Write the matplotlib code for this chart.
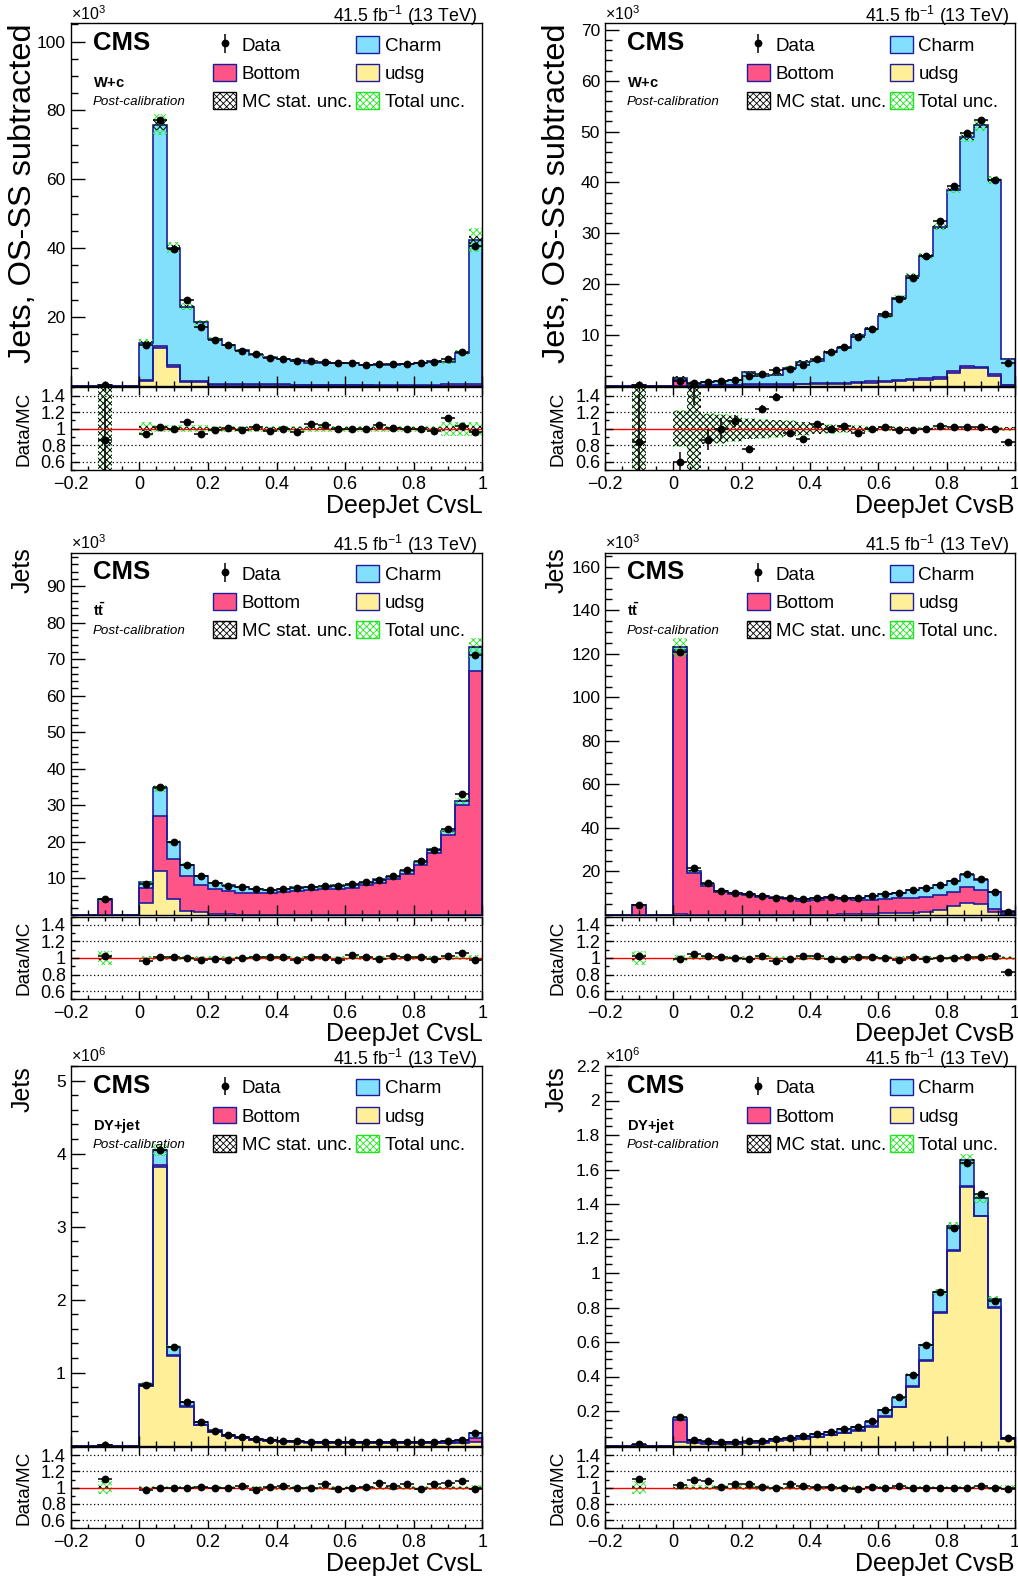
import numpy as np
import matplotlib
matplotlib.use("Agg")
import matplotlib.pyplot as plt
from matplotlib.patches import Patch
from matplotlib.ticker import MultipleLocator, FixedLocator, FuncFormatter

plt.rcParams["font.family"] = ["Liberation Sans", "DejaVu Sans"]
plt.rcParams["mathtext.fontset"] = "custom"
plt.rcParams["mathtext.rm"] = "Liberation Sans"
plt.rcParams["mathtext.it"] = "Liberation Sans:italic"
plt.rcParams["mathtext.bf"] = "Liberation Sans:bold"
plt.rcParams["hatch.linewidth"] = 0.6
plt.rcParams["axes.linewidth"] = 1.0

# ---------------- binning (30 bins of 0.04 from -0.2 to 1.0) ----------------
bin_edges = np.linspace(-0.2, 1.0, 31)
bin_centers = 0.5 * (bin_edges[:-1] + bin_edges[1:])

# ---------------- W+c, CvsL (x10^3) ----------------
wcL_udsg = [0, 0, 0.02, 0, 0, 1.5, 11.0, 5.5, 1.2, 1.0, 0.3, 0.3, 0.15, 0.1, 0.1, 0.1, 0.08, 0.08, 0.07, 0.06,
            0.06, 0.06, 0.05, 0.05, 0.05, 0.05, 0.05, 0.05, 0.05, 0.05]
wcL_bottom = [0, 0, 0.02, 0, 0, 0.3, 0.6, 0.4, 0.3, 0.3, 0.3, 0.25, 0.25, 0.3, 0.3, 0.25, 0.2, 0.2, 0.2, 0.2,
              0.2, 0.2, 0.2, 0.2, 0.2, 0.2, 0.2, 0.3, 0.5, 0.5]
wcL_charm = [0, 0, 0.10, 0, 0, 10.75, 64.2, 34.2, 21.5, 17.1, 13.1, 11.15, 9.9, 8.6, 7.9, 7.45, 7.27, 6.42, 6.28, 6.24,
             6.29, 5.89, 5.85, 5.9, 6.2, 6.45, 6.95, 6.65, 9.05, 41.75]
wcL_data = [0, 0, 0.12, 0, 0, 11.8, 77.3, 39.7, 24.8, 17.1, 13.4, 11.8, 10.1, 9.2, 8.1, 7.8, 7.25, 7.1, 6.8, 6.5,
            6.5, 6.1, 6.4, 6.2, 6.4, 6.7, 7.0, 7.9, 9.9, 40.6]
wcL_derr = [0, 0, 0.6, 0, 0, 0.01, 0.005, 0.006, 0.008, 0.01, 0.01, 0.01, 0.012, 0.012, 0.012, 0.012, 0.012, 0.012, 0.012, 0.012,
            0.012, 0.012, 0.012, 0.012, 0.012, 0.012, 0.012, 0.012, 0.01, 0.006]
wcL_stat = [0, 0, 1.0, 0, 0, 0.03, 0.02, 0.02, 0.02, 0.02, 0.02, 0.02, 0.02, 0.02, 0.02, 0.02, 0.02, 0.02, 0.02, 0.02,
            0.02, 0.02, 0.02, 0.02, 0.02, 0.02, 0.02, 0.03, 0.03, 0.03]
wcL_tot = [0, 0, 1.0, 0, 0, 0.085, 0.04, 0.04, 0.04, 0.04, 0.035, 0.035, 0.035, 0.035, 0.035, 0.035, 0.035, 0.035, 0.035, 0.035,
           0.035, 0.035, 0.035, 0.035, 0.035, 0.035, 0.035, 0.085, 0.085, 0.085]

# ---------------- W+c, CvsB (x10^3) ----------------
wcB_udsg = [0, 0, 0, 0, 0, 0.0, 0.0, 0.02, 0.05, 0.05, 0.1, 0.15, 0.2, 0.2, 0.25, 0.3, 0.35, 0.4, 0.5, 0.6,
            0.7, 0.9, 1.1, 1.2, 1.4, 2.5, 3.5, 3.4, 2.0, 0.05]
wcB_bottom = [0, 0, 0.02, 0, 0, 1.1, 0.1, 0.2, 0.1, 0.1, 0.15, 0.1, 0.1, 0.1, 0.15, 0.15, 0.15, 0.2, 0.25, 0.25,
              0.25, 0.25, 0.25, 0.25, 0.3, 0.3, 0.3, 0.3, 0.3, 0.05]
wcB_charm = [0, 0, 0.04, 0, 0, 0.4, 0.2, 0.53, 0.7, 0.95, 2.35, 1.65, 1.9, 3.15, 4.3, 4.5, 6.1, 6.9, 9.25, 10.35,
             12.85, 16.15, 20.25, 24.05, 29.6, 35.8, 45.1, 47.5, 38.2, 5.2]
wcB_data = [0, 0, 0.05, 0, 0, 0.9, 0.55, 0.65, 0.85, 1.2, 1.95, 2.35, 3.05, 3.25, 4.1, 5.25, 6.6, 7.7, 9.5, 11.2,
            14.1, 17.1, 21.2, 25.5, 32.4, 39.3, 49.8, 52.2, 40.5, 4.45]
wcB_derr = [0, 0, 0.7, 0, 0, 0.2, 0.3, 0.15, 0.13, 0.07, 0.05, 0.04, 0.035, 0.03, 0.025, 0.02, 0.02, 0.015, 0.015, 0.012,
            0.01, 0.01, 0.008, 0.008, 0.007, 0.006, 0.005, 0.005, 0.006, 0.02]
wcB_stat = [0, 0, 1.0, 0, 0, 0.21, 1.0, 0.18, 0.17, 0.15, 0.12, 0.11, 0.1, 0.09, 0.075, 0.06, 0.05, 0.04, 0.035, 0.025,
            0.02, 0.018, 0.015, 0.013, 0.012, 0.01, 0.01, 0.01, 0.01, 0.02]
wcB_tot = [0, 0, 1.0, 0, 0, 0.22, 1.0, 0.19, 0.18, 0.16, 0.13, 0.12, 0.11, 0.10, 0.085, 0.07, 0.06, 0.05, 0.045, 0.035,
           0.03, 0.028, 0.025, 0.022, 0.02, 0.02, 0.02, 0.02, 0.02, 0.025]

# ---------------- ttbar, CvsL (x10^3) ----------------
ttL_udsg = [0, 0, 0, 0, 0, 3.3, 12.1, 4.4, 1.2, 0.8, 0.4, 0.2, 0.1, 0.1, 0.08, 0.08, 0.06, 0.05, 0.04, 0.03,
            0.03, 0.03, 0.03, 0.03, 0.03, 0.03, 0.03, 0.03, 0.03, 0.05]
ttL_bottom = [0, 0, 4.2, 0, 0, 4.1, 14.9, 10.9, 9.4, 7.5, 6.8, 6.3, 5.9, 5.9, 5.9, 6.2, 6.6, 6.75, 6.95, 7.2,
              7.4, 8.05, 8.7, 9.75, 11.25, 13.6, 16.8, 21.9, 30.0, 66.8]
ttL_charm = [0, 0, 0.1, 0, 0, 1.55, 7.65, 4.6, 3.15, 2.5, 1.6, 1.65, 1.6, 1.15, 0.87, 0.77, 0.99, 0.8, 0.71, 0.92,
             0.67, 0.72, 1.02, 0.72, 0.72, 0.92, 1.17, 1.07, 1.17, 6.45]
ttL_data = [0, 0, 4.4, 0, 0, 8.6, 35.0, 20.1, 13.75, 10.6, 8.7, 8.0, 7.6, 7.2, 6.9, 7.1, 7.5, 7.65, 7.8, 8.0,
            8.4, 8.9, 9.65, 10.7, 12.2, 14.7, 17.85, 23.5, 33.1, 71.1]
ttL_derr = [0, 0, 0.02, 0, 0, 0.01, 0.005, 0.006, 0.008, 0.01, 0.01, 0.01, 0.01, 0.01, 0.01, 0.01, 0.01, 0.01, 0.01, 0.01,
            0.01, 0.01, 0.01, 0.01, 0.01, 0.008, 0.008, 0.006, 0.005, 0.004]
ttL_stat = [0, 0, 0.02, 0, 0, 0.006, 0.004, 0.005, 0.006, 0.006, 0.006, 0.006, 0.006, 0.006, 0.006, 0.006, 0.006, 0.006, 0.006, 0.006,
            0.006, 0.006, 0.006, 0.006, 0.006, 0.006, 0.006, 0.005, 0.005, 0.004]
ttL_tot = [0, 0, 0.08, 0, 0, 0.03, 0.025, 0.025, 0.025, 0.025, 0.025, 0.025, 0.025, 0.025, 0.025, 0.025, 0.025, 0.025, 0.025, 0.025,
           0.025, 0.025, 0.025, 0.025, 0.025, 0.025, 0.025, 0.025, 0.025, 0.035]

# ---------------- ttbar, CvsB (x10^3) ----------------
ttB_udsg = [0, 0, 0, 0, 0, 0.3, 0.2, 0.15, 0.1, 0.1, 0.1, 0.1, 0.1, 0.1, 0.15, 0.2, 0.2, 0.25, 0.3, 0.5,
            1.0, 1.0, 1.1, 1.2, 2.5, 4.0, 5.3, 5.0, 1.5, 0.2]
ttB_bottom = [0, 0, 4.5, 0, 0, 121.5, 19.0, 13.3, 10.5, 9.6, 9.1, 8.2, 7.5, 7.3, 6.5, 6.9, 7.4, 7.1, 6.7, 6.5,
              6.5, 6.7, 6.9, 7.3, 6.5, 6.4, 7.4, 6.5, 1.4, 0.3]
ttB_charm = [0, 0, 0.1, 0, 0, 1.2, 1.2, 0.65, 0.4, 0.4, 0.4, 0.4, 0.45, 0.5, 0.5, 0.55, 0.6, 0.65, 0.7, 1.6,
             2.3, 2.6, 3.3, 3.8, 4.9, 5.2, 5.9, 4.8, 7.6, 1.3]
ttB_data = [0, 0, 4.7, 0, 0, 121.0, 21.4, 14.5, 11.1, 10.1, 9.5, 8.9, 7.8, 7.8, 7.3, 7.8, 8.1, 7.9, 7.8, 8.7,
            9.8, 10.1, 11.5, 12.2, 13.9, 15.6, 18.8, 16.5, 10.7, 1.5]
ttB_derr = [0, 0, 0.02, 0, 0, 0.003, 0.008, 0.01, 0.01, 0.01, 0.01, 0.01, 0.012, 0.012, 0.012, 0.012, 0.012, 0.012, 0.012, 0.012,
            0.01, 0.01, 0.01, 0.01, 0.01, 0.008, 0.008, 0.008, 0.01, 0.03]
ttB_stat = [0, 0, 0.02, 0, 0, 0.004, 0.006, 0.006, 0.006, 0.006, 0.006, 0.006, 0.006, 0.006, 0.006, 0.006, 0.006, 0.006, 0.006, 0.006,
            0.006, 0.006, 0.006, 0.006, 0.006, 0.006, 0.006, 0.006, 0.006, 0.01]
ttB_tot = [0, 0, 0.08, 0, 0, 0.035, 0.025, 0.025, 0.025, 0.025, 0.025, 0.025, 0.025, 0.025, 0.025, 0.025, 0.025, 0.025, 0.025, 0.025,
           0.025, 0.025, 0.025, 0.025, 0.025, 0.025, 0.025, 0.025, 0.025, 0.03]

# ---------------- DY+jet, CvsL (x10^6) ----------------
dyL_udsg = [0, 0, 0.005, 0, 0, 0.81, 3.82, 1.23, 0.53, 0.28, 0.18, 0.13, 0.1, 0.078, 0.061, 0.052, 0.044, 0.039, 0.035, 0.034,
            0.032, 0.03, 0.029, 0.029, 0.029, 0.03, 0.03, 0.032, 0.038, 0.045]
dyL_bottom = [0, 0, 0.0002, 0, 0, 0.007, 0.03, 0.01, 0.006, 0.004, 0.004, 0.003, 0.003, 0.003, 0.003, 0.003, 0.003, 0.003, 0.003, 0.004,
              0.004, 0.004, 0.0045, 0.005, 0.005, 0.006, 0.007, 0.009, 0.014, 0.06]
dyL_charm = [0, 0, 0.0002, 0, 0, 0.03, 0.2, 0.11, 0.054, 0.033, 0.023, 0.017, 0.015, 0.012, 0.01, 0.009, 0.008, 0.008, 0.008, 0.008,
             0.008, 0.0086, 0.009, 0.009, 0.01, 0.0115, 0.012, 0.014, 0.019, 0.068]
dyL_data = [0, 0, 0.006, 0, 0, 0.825, 4.05, 1.35, 0.59, 0.32, 0.205, 0.15, 0.12, 0.09, 0.075, 0.065, 0.055, 0.05, 0.048, 0.045,
            0.044, 0.043, 0.045, 0.044, 0.046, 0.047, 0.051, 0.058, 0.077, 0.17]
dyL_derr = [0, 0, 0.02, 0, 0, 0.003, 0.002, 0.003, 0.004, 0.005, 0.006, 0.007, 0.008, 0.009, 0.01, 0.01, 0.011, 0.011, 0.012, 0.012,
            0.012, 0.012, 0.012, 0.012, 0.012, 0.012, 0.012, 0.011, 0.01, 0.006]
dyL_stat = [0, 0, 0.02, 0, 0, 0.004, 0.003, 0.004, 0.004, 0.005, 0.005, 0.005, 0.005, 0.005, 0.005, 0.005, 0.005, 0.005, 0.005, 0.005,
            0.005, 0.005, 0.005, 0.005, 0.005, 0.005, 0.005, 0.005, 0.005, 0.005]
dyL_tot = [0, 0, 0.08, 0, 0, 0.025, 0.02, 0.02, 0.02, 0.02, 0.02, 0.02, 0.02, 0.02, 0.025, 0.025, 0.025, 0.025, 0.025, 0.025,
           0.025, 0.025, 0.025, 0.025, 0.025, 0.025, 0.025, 0.025, 0.025, 0.03]

# ---------------- DY+jet, CvsB (x10^6) ----------------
dyB_udsg = [0, 0, 0.005, 0, 0, 0.02, 0.012, 0.01, 0.01, 0.011, 0.013, 0.017, 0.024, 0.031, 0.04, 0.048, 0.058, 0.071, 0.084, 0.108,
            0.165, 0.222, 0.34, 0.49, 0.77, 1.13, 1.5, 1.33, 0.8, 0.038]
dyB_bottom = [0, 0, 0.0002, 0, 0, 0.125, 0.013, 0.008, 0.006, 0.005, 0.005, 0.005, 0.005, 0.004, 0.004, 0.004, 0.004, 0.004, 0.004, 0.004,
              0.004, 0.004, 0.004, 0.004, 0.004, 0.004, 0.004, 0.003, 0.002, 0.001]
dyB_charm = [0, 0, 0.0002, 0, 0, 0.014, 0.006, 0.005, 0.0048, 0.0042, 0.005, 0.0057, 0.007, 0.0088, 0.0109, 0.0133, 0.0162, 0.019, 0.022, 0.0266,
             0.038, 0.0485, 0.066, 0.086, 0.116, 0.139, 0.15, 0.1, 0.046, 0.005]
dyB_data = [0, 0, 0.006, 0, 0, 0.165, 0.034, 0.025, 0.021, 0.021, 0.024, 0.028, 0.036, 0.046, 0.056, 0.066, 0.079, 0.094, 0.108, 0.14,
            0.205, 0.28, 0.41, 0.58, 0.89, 1.26, 1.64, 1.46, 0.84, 0.043]
dyB_derr = [0, 0, 0.02, 0, 0, 0.005, 0.012, 0.013, 0.014, 0.014, 0.013, 0.012, 0.011, 0.01, 0.009, 0.008, 0.008, 0.007, 0.007, 0.006,
            0.005, 0.004, 0.004, 0.003, 0.003, 0.002, 0.002, 0.002, 0.003, 0.01]
dyB_stat = [0, 0, 0.02, 0, 0, 0.005, 0.006, 0.006, 0.006, 0.006, 0.006, 0.006, 0.005, 0.005, 0.005, 0.005, 0.005, 0.005, 0.005, 0.005,
            0.004, 0.004, 0.004, 0.004, 0.004, 0.004, 0.004, 0.004, 0.004, 0.01]
dyB_tot = [0, 0, 0.08, 0, 0, 0.025, 0.03, 0.03, 0.03, 0.03, 0.03, 0.03, 0.025, 0.025, 0.025, 0.025, 0.025, 0.025, 0.02, 0.02,
           0.02, 0.02, 0.02, 0.02, 0.02, 0.02, 0.02, 0.02, 0.025, 0.03]

# ---------------- styling / layout ----------------
C_CHARM = "#82E0FC"
C_BOTTOM = "#FF5487"
C_UDSG = "#FFEF98"
C_EDGE = "#1C1CA0"
C_GREEN = "#1EE61E"
HATCH = "xxxxx"

FIG_W, FIG_H = 1018, 1583
COLS = [(70.7, 482.3), (605.0, 1015.0)]
# (main top, main bottom, ratio top, ratio bottom, x-label offset) in pixels
ROWS = [(23.3, 385.7, 387.3, 470.0, 36.0),
        (552.5, 915.0, 916.7, 999.3, 35.0),
        (1066.0, 1445.5, 1447.0, 1528.3, 36.0)]

PANELS = [
    dict(r=0, c=0, u=wcL_udsg, b=wcL_bottom, ch=wcL_charm, d=wcL_data, de=wcL_derr, st=wcL_stat, tot=wcL_tot,
         ylim=105.3, major=20, minor=5, mult="3", proc=r"$\mathbf{W{+}c}$", ylabel="Jets, OS-SS subtracted",
         ylsize=23.4, ylshift=0, xlabel="DeepJet CvsL"),
    dict(r=0, c=1, u=wcB_udsg, b=wcB_bottom, ch=wcB_charm, d=wcB_data, de=wcB_derr, st=wcB_stat, tot=wcB_tot,
         ylim=71.3, major=10, minor=2, mult="3", proc=r"$\mathbf{W{+}c}$", ylabel="Jets, OS-SS subtracted",
         ylsize=23.4, ylshift=0, xlabel="DeepJet CvsB"),
    dict(r=1, c=0, u=ttL_udsg, b=ttL_bottom, ch=ttL_charm, d=ttL_data, de=ttL_derr, st=ttL_stat, tot=ttL_tot,
         ylim=99.2, major=10, minor=2, mult="3", proc=r"$\mathbf{t\bar{t}}$", ylabel="Jets",
         ylsize=18, ylshift=5, xlabel="DeepJet CvsL"),
    dict(r=1, c=1, u=ttB_udsg, b=ttB_bottom, ch=ttB_charm, d=ttB_data, de=ttB_derr, st=ttB_stat, tot=ttB_tot,
         ylim=166.6, major=20, minor=5, mult="3", proc=r"$\mathbf{t\bar{t}}$", ylabel="Jets",
         ylsize=18, ylshift=5, xlabel="DeepJet CvsB"),
    dict(r=2, c=0, u=dyL_udsg, b=dyL_bottom, ch=dyL_charm, d=dyL_data, de=dyL_derr, st=dyL_stat, tot=dyL_tot,
         ylim=5.2, major=1, minor=0.2, mult="6", proc=r"$\mathbf{DY{+}jet}$", ylabel="Jets",
         ylsize=18, ylshift=0, xlabel="DeepJet CvsL"),
    dict(r=2, c=1, u=dyB_udsg, b=dyB_bottom, ch=dyB_charm, d=dyB_data, de=dyB_derr, st=dyB_stat, tot=dyB_tot,
         ylim=2.2, major=0.2, minor=0.05, mult="6", proc=r"$\mathbf{DY{+}jet}$", ylabel="Jets",
         ylsize=18, ylshift=0, xlabel="DeepJet CvsB"),
]

PX = 0.72  # points per pixel at dpi=100

fig = plt.figure(figsize=(FIG_W / 100, FIG_H / 100), dpi=100)


def add_px_axes(x0, x1, y0, y1):
    return fig.add_axes([x0 / FIG_W, 1 - y1 / FIG_H, (x1 - x0) / FIG_W, (y1 - y0) / FIG_H])


def fmt_num(v, pos=None):
    s = "%g" % round(v, 6)
    return s.replace("-", "\u2212")


for p in PANELS:
    x0, x1 = COLS[p["c"]]
    my0, my1, ry0, ry1, xl_off = ROWS[p["r"]]
    ax = add_px_axes(x0, x1, my0, my1)
    axr = add_px_axes(x0, x1, ry0, ry1)
    h_px = my1 - my0

    u = np.array(p["u"], float)
    b = np.array(p["b"], float)
    ch = np.array(p["ch"], float)
    d = np.array(p["d"], float)
    de = np.array(p["de"], float)
    st = np.array(p["st"], float)
    tot = np.array(p["tot"], float)
    c1 = u
    c2 = u + b
    c3 = u + b + ch

    # stacked histogram
    ax.stairs(c3, bin_edges, fill=True, color=C_CHARM, zorder=1)
    ax.stairs(c2, bin_edges, fill=True, color=C_BOTTOM, zorder=1.1)
    ax.stairs(c1, bin_edges, fill=True, color=C_UDSG, zorder=1.2)
    for arr in (c1, c2, c3):
        ax.stairs(arr, bin_edges, color=C_EDGE, lw=1.2, zorder=1.5)

    m = c3 > 0
    ax.bar(bin_centers[m], 2 * tot[m] * c3[m], bottom=c3[m] * (1 - tot[m]), width=0.04,
           facecolor="none", edgecolor=C_GREEN, hatch=HATCH, lw=0, zorder=2)
    ax.bar(bin_centers[m], 2 * st[m] * c3[m], bottom=c3[m] * (1 - st[m]), width=0.04,
           facecolor="none", edgecolor="black", hatch=HATCH, lw=0, zorder=2.1)

    md = d > 0
    ax.errorbar(bin_centers[md], d[md], xerr=0.02, yerr=d[md] * de[md], fmt="o", color="black",
                ms=4.6, elinewidth=1.1, capsize=0, zorder=3)

    ax.set_xlim(-0.2, 1.0)
    ax.set_ylim(0, p["ylim"])
    ticks = np.arange(p["major"], p["ylim"] + 1e-9, p["major"])
    ax.yaxis.set_major_locator(FixedLocator(ticks))
    ax.yaxis.set_minor_locator(MultipleLocator(p["minor"]))
    ax.yaxis.set_major_formatter(FuncFormatter(fmt_num))
    ax.xaxis.set_major_locator(MultipleLocator(0.2))
    ax.xaxis.set_minor_locator(MultipleLocator(0.05))
    ax.tick_params(axis="both", which="both", direction="in", top=False, right=False,
                   labelbottom=False, labelsize=12.5)
    ax.tick_params(axis="y", which="major", length=10, width=1)
    ax.tick_params(axis="y", which="minor", length=5, width=1)
    ax.tick_params(axis="x", which="major", length=7, width=1)
    ax.tick_params(axis="x", which="minor", length=3.5, width=1)

    # texts
    ax.annotate(r"$\times$10$^{%s}$" % p["mult"], xy=(0, 1), xycoords="axes fraction",
                xytext=(0, 0.5), textcoords="offset points", ha="left", va="bottom", fontsize=11.5)
    ax.annotate(r"41.5 fb$^{-1}$ (13 TeV)", xy=(1, 1), xycoords="axes fraction",
                xytext=(-5.6 * PX, 1.0), textcoords="offset points", ha="right", va="baseline", fontsize=12.8)
    ax.annotate("CMS", xy=(0, 1), xycoords="axes fraction", xytext=(22 * PX, -26.7 * PX),
                textcoords="offset points", ha="left", va="baseline", fontsize=18.5, fontweight="bold")
    ax.annotate(p["proc"], xy=(0, 1), xycoords="axes fraction", xytext=(22 * PX, -64 * PX),
                textcoords="offset points", ha="left", va="baseline", fontsize=10.5)
    ax.annotate("Post-calibration", xy=(0, 1), xycoords="axes fraction", xytext=(22 * PX, -82 * PX),
                textcoords="offset points", ha="left", va="baseline", fontsize=9.6, fontstyle="italic")
    ax.annotate(p["ylabel"], xy=(0, 1), xycoords="axes fraction", xytext=(-48 * PX, p["ylshift"] * PX),
                textcoords="offset points", ha="center", va="top", rotation=90, fontsize=p["ylsize"])

    # legend
    h_data = ax.errorbar([np.nan], [np.nan], yerr=[1.0], fmt="o", color="black", ms=4.6,
                         elinewidth=1.1, capsize=0)
    handles = [h_data,
               Patch(facecolor=C_BOTTOM, edgecolor=C_EDGE, lw=1.0),
               Patch(facecolor="white", edgecolor="black", hatch=HATCH, lw=1.0),
               Patch(facecolor=C_CHARM, edgecolor=C_EDGE, lw=1.0),
               Patch(facecolor=C_UDSG, edgecolor=C_EDGE, lw=1.0),
               Patch(facecolor="white", edgecolor=C_GREEN, hatch=HATCH, lw=1.0)]
    labels = ["Data", "Bottom", "MC stat. unc.", "Charm", "udsg", "Total unc."]
    ax.legend(handles, labels, loc="upper left",
              bbox_to_anchor=((213 - 70.7) / 411.6, 1 - 12.5 / h_px), ncol=2, frameon=False,
              fontsize=13.5, borderpad=0, borderaxespad=0, handlelength=1.24, handleheight=1.0,
              handletextpad=0.3, columnspacing=0.2, labelspacing=0.5)

    # ratio panel
    mr = c3 > 0
    ratio = np.full_like(d, np.nan)
    ratio[mr] = d[mr] / c3[mr]
    axr.bar(bin_centers[mr], 2 * tot[mr], bottom=1 - tot[mr], width=0.04,
            facecolor="none", edgecolor=C_GREEN, hatch=HATCH, lw=0, zorder=1)
    axr.bar(bin_centers[mr], 2 * st[mr], bottom=1 - st[mr], width=0.04,
            facecolor="none", edgecolor="black", hatch=HATCH, lw=0, zorder=1.1)
    for yv in (0.6, 0.8, 1.2, 1.4):
        axr.axhline(yv, color="black", lw=0.9, ls=(0, (1, 2)), zorder=0.5)
    axr.axhline(1.0, color="red", lw=1.0, zorder=1.5)
    okr = mr & (d > 0)
    axr.errorbar(bin_centers[okr], ratio[okr], xerr=0.02, yerr=ratio[okr] * de[okr], fmt="o",
                 color="black", ms=4.6, elinewidth=1.1, capsize=0, zorder=3)
    axr.set_xlim(-0.2, 1.0)
    axr.set_ylim(0.5, 1.5)
    axr.yaxis.set_major_locator(FixedLocator([0.6, 0.8, 1.0, 1.2, 1.4]))
    axr.yaxis.set_minor_locator(MultipleLocator(0.1))
    axr.yaxis.set_major_formatter(FuncFormatter(fmt_num))
    axr.xaxis.set_major_locator(MultipleLocator(0.2))
    axr.xaxis.set_minor_locator(MultipleLocator(0.05))
    axr.xaxis.set_major_formatter(FuncFormatter(fmt_num))
    axr.tick_params(axis="both", which="both", direction="in", top=True, right=False, labelsize=13)
    axr.tick_params(axis="x", which="major", length=6, width=1, pad=4)
    axr.tick_params(axis="x", which="minor", length=3, width=1)
    axr.tick_params(axis="y", which="major", length=5.5, width=1)
    axr.tick_params(axis="y", which="minor", length=3, width=1)
    axr.annotate("Data/MC", xy=(0, 0.5), xycoords="axes fraction", xytext=(-46.7 * PX, 0),
                 textcoords="offset points", ha="center", va="center", rotation=90, fontsize=13.7)
    axr.annotate(p["xlabel"], xy=(1, 0), xycoords="axes fraction", xytext=(0, -xl_off * PX),
                 textcoords="offset points", ha="right", va="center", fontsize=18)

fig.savefig("out.png", dpi=100)
